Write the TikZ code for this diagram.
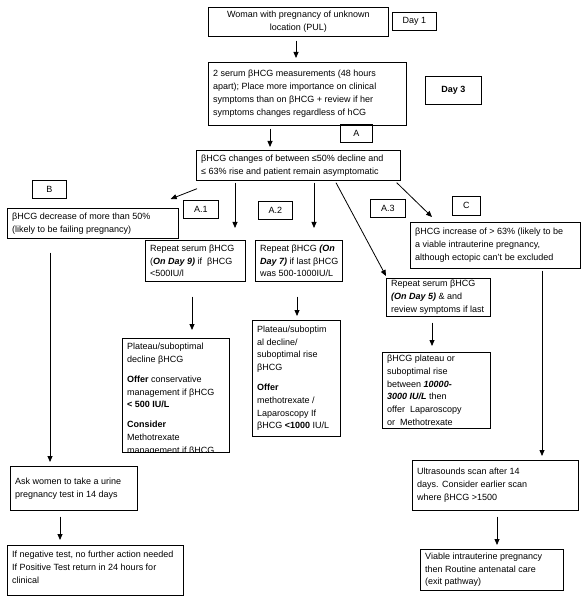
\documentclass[tikz,border=0pt]{standalone}
\usepackage{fontspec}
\setmainfont{Liberation Sans}
\usetikzlibrary{arrows.meta,calc}
\newcommand{\fs}{\fontsize{9}{12.8}\selectfont}
\newcommand{\bfit}[1]{\textbf{\textit{#1}}}
\begin{document}
\begin{tikzpicture}[x=1pt,y=-1pt,
  frame/.style={draw=black, line width=0.7pt, anchor=north west, inner sep=0pt, font=\fs},
  txt/.style={anchor=west, align=left, inner xsep=5pt, inner ysep=0pt, font=\fs},
  arr/.style={line width=0.8pt, -{Triangle[length=6pt,width=5pt]}}]
\useasboundingbox[fill=white] (0,0) rectangle (582,601);

% column coordinates
\coordinate (x296) at (296,0);
\coordinate (x270) at (270,0);
\coordinate (x235) at (235,0);
\coordinate (x314) at (314,0);
\coordinate (x192) at (192,0);
\coordinate (x297) at (297,0);
\coordinate (x432) at (432,0);
\coordinate (x50) at (50,0);
\coordinate (x60) at (60,0);
\coordinate (x542) at (542,0);
\coordinate (x497) at (497,0);

% top
\node[frame, minimum width=180pt, minimum height=29pt, align=center] (n1) at (208,7) {Woman with pregnancy of unknown\\location (PUL)};
\node[frame, minimum width=44pt, minimum height=18pt] (d1) at (392,12) {Day 1};

\node[frame, minimum width=198pt, minimum height=63pt] (n2) at (208,62) {};
\node[txt] (n2t) at (n2.west) {2 serum βHCG measurements (48 hours\\apart); Place more importance on clinical\\symptoms than on βHCG + review if her\\symptoms changes regardless of hCG};
\node[frame, minimum width=56pt, minimum height=28pt, font=\fs\bfseries] (d3) at (425,76) {Day 3};

\node[frame, minimum width=32pt, minimum height=18pt] (lA) at (340,124) {A};

\node[frame, minimum width=204pt, minimum height=30pt] (n3) at (196,150) {};
\node[txt] (n3t) at (n3.west) {βHCG changes of between ≤50\% decline and\\≤ 63\% rise and patient remain asymptomatic};

% labels
\node[frame, minimum width=34pt, minimum height=18pt] (lB) at (32,180) {B};
\node[frame, minimum width=35pt, minimum height=18pt] (lA1) at (183,200) {A.1};
\node[frame, minimum width=34pt, minimum height=18pt] (lA2) at (258,201) {A.2};
\node[frame, minimum width=35pt, minimum height=18pt] (lA3) at (370,199) {A.3};
\node[frame, minimum width=28pt, minimum height=19pt] (lC) at (452,196) {C};

% B branch
\node[frame, minimum width=171pt, minimum height=30pt] (nB) at (7,208) {};
\node[txt] (nBt) at (nB.west) {βHCG decrease of more than 50\%\\(likely to be failing pregnancy)};

% C branch
\node[frame, minimum width=170pt, minimum height=46pt] (nC) at (410,222) {};
\node[txt] (nCt) at (nC.west) {βHCG increase of > 63\% (likely to be\\a viable intrauterine pregnancy,\\although ectopic can’t be excluded};

% A.1, A.2, A.3 boxes
\node[frame, minimum width=100pt, minimum height=41pt] (nA1) at (145,240) {};
\node[txt] (nA1t) at (nA1.west) {Repeat serum βHCG\\(\bfit{On Day 9)} if~ βHCG\\<500IU/l};

\node[frame, minimum width=87pt, minimum height=41pt] (nA2) at (255,240) {};
\node[txt] (nA2t) at (nA2.west) {Repeat βHCG \bfit{(On}\\\bfit{Day 7)} if last βHCG\\was 500-1000IU/L};

\node[frame, minimum width=104pt, minimum height=38pt] (nA3) at (386,278) {};
\node[txt] (nA3t) at (nA3.west) {Repeat serum βHCG\\\bfit{(On Day 5)} \& and\\review symptoms if last};

% plateau boxes
\node[frame, minimum width=107pt, minimum height=114pt] (p1) at (122,338) {};
\begin{scope}
\clip (p1.north west) rectangle (p1.south east);
\node[anchor=north west, align=left, inner xsep=5pt, inner ysep=5pt, font=\fs] (p1t) at (p1.north west) {Plateau/suboptimal\\decline βHCG\\[7pt]\textbf{Offer} conservative\\management if βHCG\\\textbf{< 500 IU/L}\\[7pt]\textbf{Consider}\\Methotrexate\\management if βHCG};
\end{scope}

\node[frame, minimum width=88pt, minimum height=116pt] (p2) at (252,320) {};
\node[txt] (p2t) at (p2.west) {Plateau/suboptim\\al decline/\\suboptimal rise\\βHCG\\[7pt]\textbf{Offer}\\methotrexate /\\Laparoscopy If\\βHCG \textbf{<1000} IU/L};

\node[frame, minimum width=108pt, minimum height=76pt] (p3) at (382,352) {};
\node[txt] (p3t) at (p3.west) {βHCG plateau or\\suboptimal rise\\between \bfit{10000-}\\\bfit{3000 IU/L} then\\offer~ Laparoscopy\\or~ Methotrexate};

% bottom
\node[frame, minimum width=127pt, minimum height=44pt] (nAsk) at (10,466) {};
\node[txt] (nAskt) at (nAsk.west) {Ask women to take a urine\\pregnancy test in 14 days};

\node[frame, minimum width=176pt, minimum height=50pt] (nF) at (7,545) {};
\node[anchor=north west, align=left, inner xsep=5pt, inner ysep=6pt, font=\fs] (nFt) at (nF.north west) {If negative test, no further action needed\\If Positive Test return in 24 hours for\\clinical};

\node[frame, minimum width=166pt, minimum height=50pt] (nUS) at (412,460) {};
\node[txt] (nUSt) at (nUS.west) {Ultrasounds scan after 14\\days. Consider earlier scan\\where βHCG >1500};

\node[frame, minimum width=143pt, minimum height=41pt] (nV) at (420,549) {};
\node[txt] (nVt) at (nV.west) {Viable intrauterine pregnancy\\then Routine antenatal care\\(exit pathway)};

% connectors
\draw[arr, shorten <=4pt, shorten >=4pt] (n1.south -| x296) -- (n2.north -| x296);
\draw[arr, shorten <=3pt, shorten >=3pt] (n2.south -| x270) -- (n3.north -| x270);
\draw[arr] ($(n3.south west)+(1,8)$) -- ($(nB.north east)+(-8,-9)$);
\draw[arr, shorten <=2pt, shorten >=12pt] (n3.south -| x235) -- (nA1.north -| x235);
\draw[arr, shorten <=2pt, shorten >=12pt] (n3.south -| x314) -- (nA2.north -| x314);
\draw[arr] ($(n3.south west)+(140,2)$) -- ($(nA3.north west)+(0,-2)$);
\draw[arr] ($(n3.south east)+(-4,2)$) -- ($(nC.north west)+(22,-5)$);
\draw[arr, shorten <=15pt, shorten >=8pt] (nA1.south -| x192) -- (p1.north -| x192);
\draw[arr, shorten <=15pt, shorten >=4pt] (nA2.south -| x297) -- (p2.north -| x297);
\draw[arr, shorten <=6pt, shorten >=6pt] (nA3.south -| x432) -- (p3.north -| x432);
\draw[arr, shorten <=14pt, shorten >=4pt] (nB.south -| x50) -- (nAsk.north -| x50);
\draw[arr, shorten <=6pt, shorten >=5pt] (nAsk.south -| x60) -- (nF.north -| x60);
\draw[arr, shorten <=2pt, shorten >=4pt] (nC.south -| x542) -- (nUS.north -| x542);
\draw[arr, shorten <=6pt, shorten >=4pt] (nUS.south -| x497) -- (nV.north -| x497);
\end{tikzpicture}
\end{document}
